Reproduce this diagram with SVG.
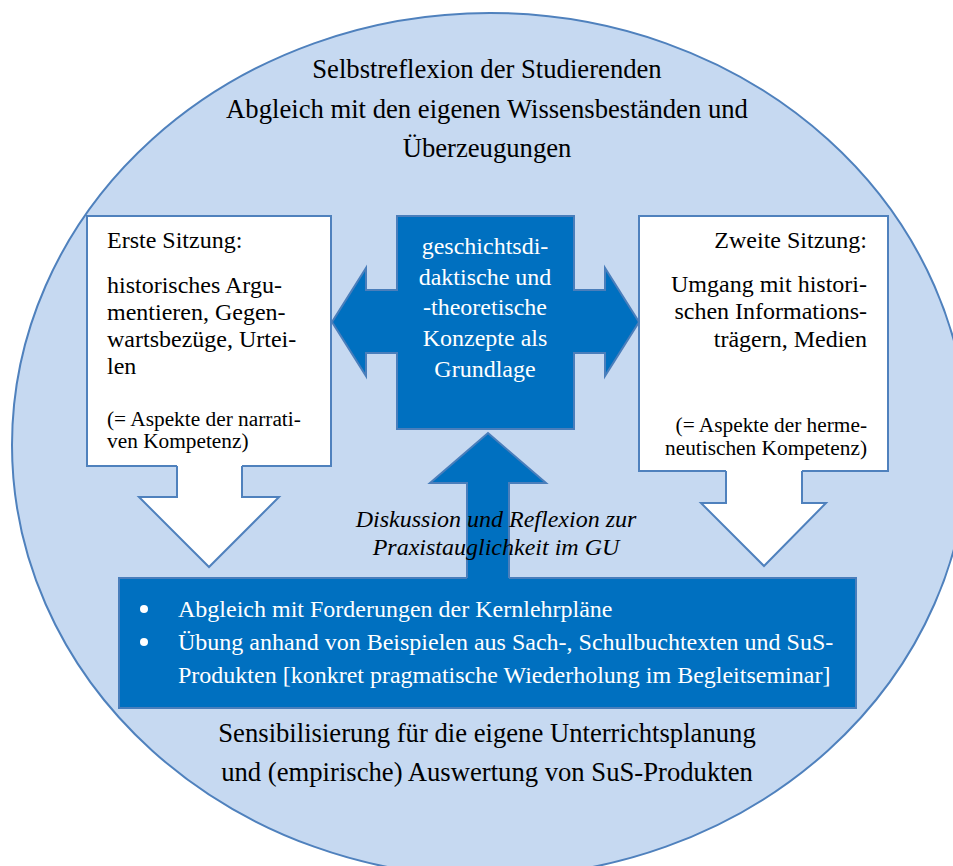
<svg xmlns="http://www.w3.org/2000/svg" width="953" height="866" viewBox="0 0 953 866" font-family="'Liberation Serif', 'Times New Roman', Times, serif">
<style>
.outer{font-size:26.67px;fill:#000;text-anchor:middle;}
.box{font-size:24px;fill:#000;}
.small{font-size:21.33px;fill:#000;}
.white{font-size:24px;fill:#fff;}
.ital{font-size:24px;font-style:italic;fill:#000;text-anchor:middle;}
.wbox{fill:#fff;stroke:#4F81BD;stroke-width:2;}
.dark{fill:#0070C0;stroke:#4A7EBB;stroke-width:2;}
.darkfill{fill:#0070C0;stroke:none;}
.whitefill{fill:#fff;stroke:none;}
.edgeB{fill:none;stroke:#4F81BD;stroke-width:2;}
.edgeD{fill:none;stroke:#4A7EBB;stroke-width:2;}
</style>
<rect width="953" height="866" fill="#fff"/>
<g id="ellipse">
<ellipse cx="490" cy="445" rx="478" ry="432" fill="#C6D9F1" stroke="#4F81BD" stroke-width="2"/>
<text class="outer" x="487" y="78">Selbstreflexion der Studierenden</text>
<text class="outer" x="487" y="118">Abgleich mit den eigenen Wissensbeständen und</text>
<text class="outer" x="487" y="157">Überzeugungen</text>
<text class="outer" x="487" y="742">Sensibilisierung für die eigene Unterrichtsplanung</text>
<text class="outer" x="487" y="781">und (empirische) Auswertung von SuS-Produkten</text>
</g>
<g id="box-left">
<rect class="wbox" x="87" y="216" width="244" height="250"/>
<text class="box" x="107" y="248">Erste Sitzung:</text>
<text class="box" x="107" y="293">historisches Argu-</text>
<text class="box" x="107" y="320">mentieren, Gegen-</text>
<text class="box" x="107" y="347">wartsbezüge, Urtei-</text>
<text class="box" x="107" y="374">len</text>
<text class="small" x="107" y="426">(= Aspekte der narrati-</text>
<text class="small" x="107" y="448">ven Kompetenz)</text>
</g>
<g id="box-right">
<rect class="wbox" x="639" y="216" width="249" height="255"/>
<text class="box" x="867" y="248" text-anchor="end">Zweite Sitzung:</text>
<text class="box" x="867" y="292" text-anchor="end">Umgang mit histori-</text>
<text class="box" x="867" y="319" text-anchor="end">schen Informations-</text>
<text class="box" x="867" y="347" text-anchor="end">trägern, Medien</text>
<text class="small" x="867" y="432" text-anchor="end">(= Aspekte der herme-</text>
<text class="small" x="867" y="455" text-anchor="end">neutischen Kompetenz)</text>
</g>
<g id="center">
<polygon class="dark" points="397,216 574,216 574,290 605,290 605,268 639,322 605,376 605,353 574,353 574,429 397,429 397,353 366,353 366,376 332,322 366,268 366,290 397,290"/>
<text class="white" x="485" y="254" text-anchor="middle">geschichtsdi-</text>
<text class="white" x="485" y="285" text-anchor="middle">daktische und</text>
<text class="white" x="485" y="315" text-anchor="middle">-theoretische</text>
<text class="white" x="485" y="346" text-anchor="middle">Konzepte als</text>
<text class="white" x="485" y="377" text-anchor="middle">Grundlage</text>
</g>
<g id="box-bottom">
<rect class="dark" x="119" y="578" width="737" height="130"/>
<circle cx="144" cy="609" r="4" fill="#fff"/>
<circle cx="144" cy="642" r="4" fill="#fff"/>
<text class="white" x="178" y="617">Abgleich mit Forderungen der Kernlehrpläne</text>
<text class="white" x="178" y="650">Übung anhand von Beispielen aus Sach-, Schulbuchtexten und SuS-</text>
<text class="white" x="178" y="683">Produkten [konkret pragmatische Wiederholung im Begleitseminar]</text>
</g>
<g id="connectors">
<polygon class="whitefill" points="177,460 242,460 242,497 279,497 209,567 139,497 177,497"/>
<polyline class="edgeB" points="177,466 177,497 139,497 209,567 279,497 242,497 242,466"/>
<polygon class="whitefill" points="726,465 802,465 802,503 826,503 764,566 701,503 726,503"/>
<polyline class="edgeB" points="726,471 726,503 701,503 764,566 826,503 802,503 802,471"/>
<polygon class="darkfill" points="467,584 467,483 430,483 488,433 546,483 509,483 509,584"/>
<polyline class="edgeD" points="467,578 467,483 430,483 488,433 546,483 509,483 509,578"/>
</g>
<g id="label">
<text class="ital" x="496" y="527">Diskussion und Reflexion zur</text>
<text class="ital" x="496" y="555">Praxistauglichkeit im GU</text>
</g>
</svg>
